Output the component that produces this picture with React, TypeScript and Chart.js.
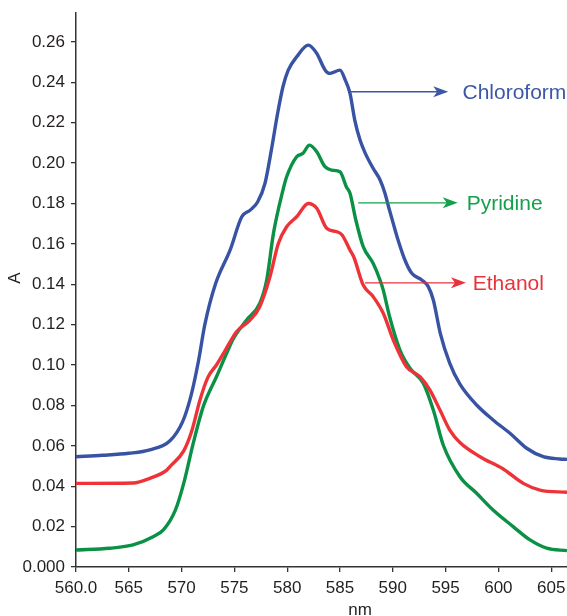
import React, { useEffect, useRef } from "react";
import { Chart, registerables } from "chart.js";

Chart.register(...registerables);

const chloroformNm = [560, 562.5, 565, 567, 568.9, 570.1, 570.9, 571.6, 572.2, 573.2, 574.6, 575.7, 576.5, 577.2, 577.9, 578.5, 579.1, 579.6, 580.1, 580.9, 582.0, 582.8, 583.6, 584.05, 585.0, 585.5, 585.95, 586.4, 586.9, 587.4, 588.15, 588.8, 589.26, 589.6, 590.05, 590.5, 591.15, 591.8, 592.74, 593.36, 593.84, 594.5, 595.4, 596.36, 597.94, 599.5, 601.1, 602.68, 604.25, 605.8, 606.5];
const chloroformA = [0.0546, 0.0553, 0.0563, 0.058, 0.0625, 0.072, 0.085, 0.102, 0.12, 0.14, 0.157, 0.1734, 0.1767, 0.1807, 0.19, 0.2064, 0.2248, 0.2378, 0.246, 0.2526, 0.2584, 0.2543, 0.246, 0.2444, 0.246, 0.2411, 0.2345, 0.2213, 0.2114, 0.2048, 0.1973, 0.1916, 0.185, 0.1784, 0.17, 0.1619, 0.152, 0.1454, 0.1421, 0.1388, 0.1322, 0.1157, 0.1008, 0.0905, 0.0802, 0.0728, 0.0662, 0.0588, 0.0546, 0.0535, 0.0533];

const ethanolNm = [560, 565.4, 567, 568.6, 568.9, 570.2, 571.0, 571.74, 572.5, 573.3, 574.0, 575.2, 576.5, 577.4, 578.37, 579.16, 579.95, 580.9, 582.0, 582.8, 583.74, 584.7, 585.2, 585.95, 586.3, 587.2, 588.15, 589.1, 590.05, 591.3, 592.58, 593.52, 594.47, 595.4, 596.36, 598.26, 600.46, 602.36, 603.94, 606.5];
const ethanolA = [0.0414, 0.0416, 0.0439, 0.048, 0.0497, 0.0575, 0.068, 0.0827, 0.094, 0.1, 0.106, 0.1165, 0.1223, 0.1289, 0.1437, 0.1602, 0.1685, 0.1734, 0.18, 0.1776, 0.1677, 0.166, 0.1644, 0.1569, 0.1536, 0.1396, 0.1338, 0.1256, 0.1124, 0.0992, 0.0942, 0.0876, 0.0777, 0.0678, 0.0616, 0.0546, 0.0485, 0.0414, 0.0381, 0.037];

const pyridineNm = [560, 563.2, 565.4, 567.3, 568.3, 569.4, 570.2, 571.1, 572.05, 573.3, 574.4, 574.9, 576.16, 577.4, 578.06, 578.7, 579.6, 579.95, 580.9, 581.5, 582.1, 582.8, 583.58, 584.2, 585.0, 585.6, 585.95, 586.5, 587.2, 588.15, 588.8, 589.1, 589.7, 590.68, 591.63, 592.9, 593.84, 594.78, 596.36, 597.94, 599.5, 601.4, 603.0, 604.57, 606.5];
const pyridineA = [0.0084, 0.0093, 0.0109, 0.015, 0.0185, 0.028, 0.0414, 0.0612, 0.0794, 0.0942, 0.1074, 0.113, 0.1223, 0.1305, 0.1421, 0.1652, 0.1866, 0.1932, 0.2031, 0.2048, 0.2089, 0.2056, 0.1982, 0.1965, 0.1957, 0.1883, 0.185, 0.1718, 0.1586, 0.1503, 0.142, 0.1371, 0.1239, 0.1074, 0.0984, 0.0909, 0.0777, 0.0604, 0.0447, 0.0365, 0.0282, 0.02, 0.0134, 0.0093, 0.0081];

const seriesNames = ["Chloroform", "Pyridine", "Ethanol"];
const seriesColors = ["#3953a4", "#0a9146", "#ee3338"];
const labelColors = ["#3b57a8", "#13a04b", "#e9323a"];
// annotation arrows (data coords): start nm, end nm, A level, label nm
const arrowStartNm = [585.95, 586.73, 587.37];
const arrowEndNm = [595.25, 596.15, 596.93];
const arrowA = [0.2353, 0.1803, 0.1407];
const labelNm = [596.6, 597.0, 597.57];

const xTickValues = [560, 565, 570, 575, 580, 585, 590, 595, 600, 605];
const xMin = 560;
const xMax = 606.5;
const yMin = 0;
const yMax = 0.2743;

const FONT = "'Liberation Sans', Arial, Helvetica, sans-serif";

function pts(xs: number[], ys: number[]) {
  return xs.map((x, i) => ({ x, y: ys[i] }));
}

const annotationPlugin = {
  id: "annots",
  afterDraw(chart: any) {
    const ctx = chart.ctx;
    const xs = chart.scales.x;
    const ys = chart.scales.y;
    ctx.save();
    for (let i = 0; i < seriesNames.length; i++) {
      const x0 = xs.getPixelForValue(arrowStartNm[i]);
      const x1 = xs.getPixelForValue(arrowEndNm[i]);
      const y = ys.getPixelForValue(arrowA[i]);
      ctx.strokeStyle = labelColors[i];
      ctx.fillStyle = labelColors[i];
      ctx.lineWidth = 1.4;
      ctx.beginPath();
      ctx.moveTo(x0, y);
      ctx.lineTo(x1 - 10, y);
      ctx.stroke();
      ctx.beginPath();
      ctx.moveTo(x1, y);
      ctx.lineTo(x1 - 15, y - 5.5);
      ctx.lineTo(x1 - 11, y);
      ctx.lineTo(x1 - 15, y + 5.5);
      ctx.closePath();
      ctx.fill();
      ctx.font = "21px " + FONT;
      ctx.textAlign = "left";
      ctx.textBaseline = "middle";
      ctx.fillText(seriesNames[i], xs.getPixelForValue(labelNm[i]), y + 1.5);
    }
    // axis titles
    ctx.fillStyle = "#231f20";
    ctx.font = "17px " + FONT;
    ctx.textAlign = "center";
    ctx.textBaseline = "middle";
    ctx.fillText("nm", xs.getPixelForValue(586.9), 610);
    ctx.save();
    ctx.translate(15, ys.getPixelForValue(0.143));
    ctx.rotate(-Math.PI / 2);
    ctx.fillText("A", 0, 0);
    ctx.restore();
    ctx.restore();
  },
};

export default function App() {
  const ref = useRef<HTMLCanvasElement | null>(null);
  useEffect(() => {
    if (!ref.current) return;
    const chart = new Chart(ref.current, {
      type: "line",
      data: {
        datasets: [
          { label: "Chloroform", data: pts(chloroformNm, chloroformA), borderColor: seriesColors[0] },
          { label: "Ethanol", data: pts(ethanolNm, ethanolA), borderColor: seriesColors[2] },
          { label: "Pyridine", data: pts(pyridineNm, pyridineA), borderColor: seriesColors[1] },
        ].map((d) => ({
          ...d,
          borderWidth: 3.4,
          pointRadius: 0,
          fill: false,
          cubicInterpolationMode: "monotone" as const,
        })),
      },
      options: {
        animation: false,
        responsive: false,
        maintainAspectRatio: false,
        layout: { padding: { top: 13, right: 0, left: 0, bottom: 0 } },
        plugins: { legend: { display: false }, tooltip: { enabled: false } },
        scales: {
          x: {
            type: "linear",
            min: xMin,
            max: xMax,
            afterBuildTicks: (scale: any) => {
              scale.ticks = xTickValues.map((v) => ({ value: v }));
            },
            afterFit: (scale: any) => {
              scale.height = 49;
              scale.paddingLeft = 0;
              scale.paddingRight = 0;
            },
            ticks: {
              font: { family: FONT, size: 17 },
              color: "#231f20",
              padding: 6,
              maxRotation: 0,
              autoSkip: false,
              callback: (v: any) => (v === 560 ? "560.0" : String(v)),
            },
            grid: { drawOnChartArea: false, drawTicks: true, tickLength: 5, color: "#333", lineWidth: 1.3 },
            border: { display: true, color: "#333", width: 1.5 },
          },
          y: {
            type: "linear",
            min: yMin,
            max: yMax,
            afterBuildTicks: (scale: any) => {
              const t = [];
              for (let i = 0; i <= 13; i++) t.push({ value: i * 0.02 });
              scale.ticks = t;
            },
            afterFit: (scale: any) => {
              scale.width = 76;
              scale.paddingTop = 0;
              scale.paddingBottom = 0;
            },
            ticks: {
              font: { family: FONT, size: 17 },
              color: "#231f20",
              padding: 6,
              autoSkip: false,
              callback: (v: any) => (Math.abs(v) < 1e-9 ? "0.000" : (Math.round(v * 100) / 100).toFixed(2)),
            },
            grid: { drawOnChartArea: false, drawTicks: true, tickLength: 5, color: "#333", lineWidth: 1.3 },
            border: { display: true, color: "#333", width: 1.5 },
          },
        },
      },
      plugins: [annotationPlugin],
    } as any);
    return () => chart.destroy();
  }, []);
  return (
    <div style={{ position: "fixed", left: 0, top: 0, width: 567, height: 616, background: "#fff" }}>
      <canvas ref={ref} width={567} height={616} style={{ width: 567, height: 616, display: "block" }} />
    </div>
  );
}
